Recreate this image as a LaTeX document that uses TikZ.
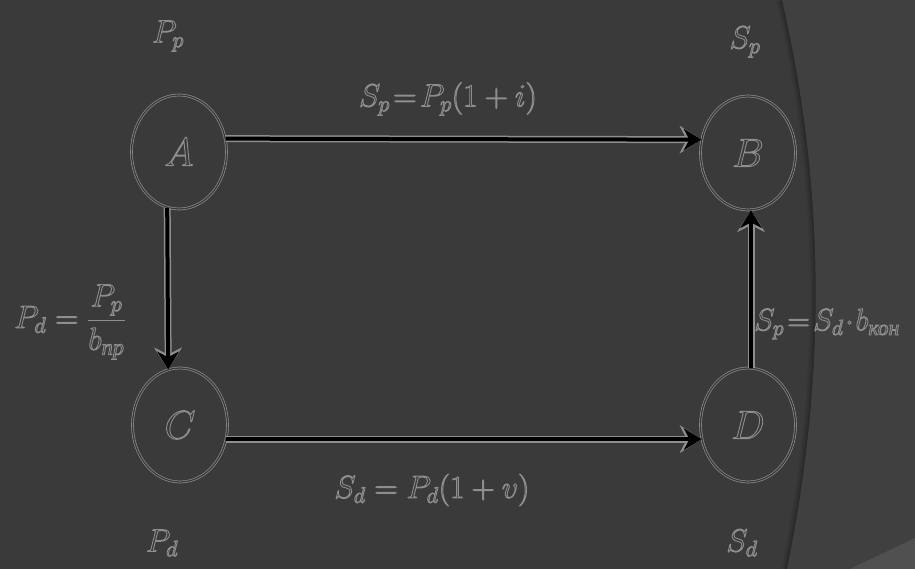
\RequirePackage{fix-cm}
\documentclass[tikz,border=0pt]{standalone}
\usepackage{amsmath}
\usepackage{fontspec}
\setmainfont{Liberation Serif}
\usetikzlibrary{arrows.meta,shapes.geometric}
\definecolor{bgmain}{HTML}{3A3A3A}
\definecolor{bgright}{HTML}{404040}
\definecolor{bglight}{HTML}{505050}
\definecolor{ink}{HTML}{8E8E8E}
\newcommand{\outl}[1]{\special{pdf:code q 1 Tr 0.9 w}#1\special{pdf:code Q}}
\tikzset{
  state/.style={ellipse, minimum width=95pt, minimum height=114pt, draw=ink,
    double=bgmain, double distance=1.3pt, line width=0.7pt, inner sep=0pt,
    text=ink, font=\fontsize{40}{44}\selectfont},
  lbl/.style={text=ink, inner sep=0pt, font=\fontsize{32}{38}\selectfont},
  arrout/.style={draw=ink, line width=7pt, -{Stealth[length=22pt,width=28pt,line width=0.8pt]}},
  arrin/.style={draw=black, line width=4pt, -{Stealth[length=18pt,width=22pt,line width=0pt]}},
}
\begin{document}
\begin{tikzpicture}[x=1pt,y=-1pt]
\useasboundingbox (0,0) rectangle (915,569);
\fill[bgmain] (0,0) rectangle (915,569);
\foreach \d/\o in {12/0.04,9/0.06,6/0.08,3/0.1}
  \draw[black, opacity=\o, line width=\d pt] (782,0) .. controls (826,190) and (826,380) .. (787,569);
\fill[bgright] (782,0) .. controls (826,190) and (826,380) .. (787,569) -- (915,569) -- (915,0) -- cycle;
\fill[bglight] (850,569) -- (915,538) -- (915,569) -- cycle;

\node[state] (A) at (179,152) {\outl{$A$}};
\node[state] (B) at (748,153) {\outl{$B$}};
\node[state] (C) at (180,425) {\outl{$C$}};
\node[state] (D) at (748,425) {\outl{$D$}};

\foreach \s/\t in {A.16/B.164, C.-17/D.197, A.258/C.102, D.87/B.273}{
  \draw[arrout] (\s) -- (\t);
  \draw[arrin] (\s) -- (\t);
}

\node[lbl] (pp) at (168,36) {\outl{$P_p$}};
\node[lbl] (sp) at (745,42) {\outl{$S_p$}};
\node[lbl] (pd) at (162,543) {\outl{$P_d$}};
\node[lbl] (sd) at (742,543) {\outl{$S_d$}};
\node[lbl] (fab) at (448,99) {\outl{$S_p\!=\!P_p(1+i)$}};
\node[lbl] (fac) at (70,322) {\outl{$P_d=\dfrac{P_p}{b_{\text{\itshape пр}}}$}};
\node[lbl] (fcd) at (432,490) {\outl{$S_d=P_d(1+v)$}};
\node[lbl, anchor=west, font=\fontsize{31}{36}\selectfont] (fdb) at (754,324) {\outl{$S_p\!=\!S_d\!\cdot\! b_{\text{\itshape кон}}$}};
\end{tikzpicture}
\end{document}
